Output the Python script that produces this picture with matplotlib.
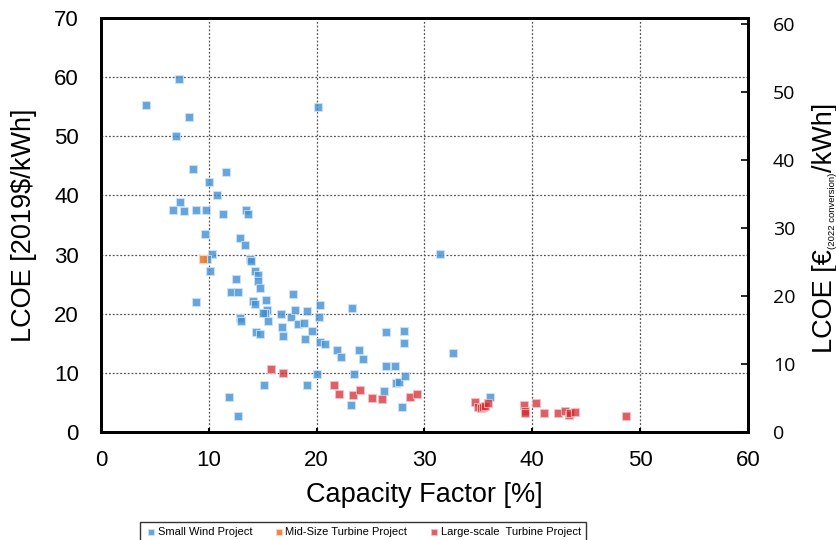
import matplotlib
matplotlib.use("Agg")
import matplotlib.pyplot as plt

# ---------------- data ----------------
small_cf = [4.2, 7.2, 8.2, 7.0, 20.1, 8.5, 11.6, 10.0, 10.8, 7.3, 6.7, 7.7, 8.8, 9.7, 11.3,
            13.45, 13.6, 9.6, 12.9, 13.4, 10.3, 9.85, 13.8, 13.9, 10.15, 12.5, 14.25, 14.6,
            14.6, 14.7, 12.1, 12.66, 8.8, 14.1, 14.3, 15.3, 15.4, 15.2, 15.0, 15.5, 12.9, 13.0,
            14.4, 14.75, 16.7, 16.8, 16.85, 17.8, 17.6, 18.0, 18.3, 18.8, 19.1, 18.9, 19.6,
            20.2, 20.3, 20.3, 20.8, 21.9, 22.3, 23.3, 23.9, 24.3, 23.5, 20.0, 26.4, 28.1, 28.1,
            26.45, 27.3, 27.4, 27.65, 28.2, 26.2, 23.2, 27.9, 19.1, 15.1, 11.85, 12.7, 31.4,
            32.6, 36.1]
small_lcoe = [55.3, 59.7, 53.2, 50.0, 55.0, 44.4, 44.0, 42.2, 40.1, 38.9, 37.6, 37.4, 37.5,
              37.5, 36.9, 37.6, 36.9, 33.5, 32.8, 31.6, 30.1, 29.2, 29.2, 28.9, 27.2, 25.9,
              27.2, 26.6, 25.5, 24.3, 23.7, 23.6, 22.0, 22.1, 21.7, 22.3, 20.7, 20.2, 20.1,
              18.8, 19.3, 18.8, 16.9, 16.5, 19.9, 17.7, 16.2, 23.4, 19.4, 20.7, 18.3, 18.4,
              20.5, 15.7, 17.0, 19.4, 21.5, 15.3, 14.8, 13.8, 12.6, 21.0, 13.9, 12.3, 9.8,
              9.8, 16.9, 17.1, 15.0, 11.1, 11.1, 8.3, 8.4, 9.4, 6.9, 4.6, 4.3, 7.9, 7.9, 6.0,
              2.7, 30.1, 13.4, 6.0]

mid_cf = [9.5]
mid_lcoe = [29.3]

large_cf = [15.8, 16.85, 21.6, 22.1, 23.4, 24.0, 25.15, 26.1, 28.7, 29.3, 34.7, 35.0, 35.2,
            35.4, 35.6, 35.9, 39.2, 39.35, 39.3, 40.3, 41.1, 42.4, 43.05, 43.4, 43.5, 44.0,
            48.7]
large_lcoe = [10.6, 10.0, 7.9, 6.5, 6.2, 7.1, 5.8, 5.6, 6.0, 6.4, 5.1, 4.2, 4.1, 4.3, 4.4,
              4.9, 4.55, 3.6, 3.2, 4.9, 3.2, 3.2, 3.6, 2.9, 3.2, 3.4, 2.75]

x_ticks = [0, 10, 20, 30, 40, 50, 60]
y_ticks_left = [0, 10, 20, 30, 40, 50, 60, 70]
y_ticks_right = [0, 10, 20, 30, 40, 50, 60]
right_top = 60.9   # right axis value at the top of the plot

# ---------------- style ----------------
plt.rcParams['font.family'] = ['Liberation Sans', 'DejaVu Sans']

W, H = 837, 540
fig = plt.figure(figsize=(W / 100, H / 100), dpi=100)
ax = fig.add_axes([101 / W, 1 - 432 / H, (748 - 101) / W, (432 - 18) / H])

blue = '#3f8fd2'
orange = '#ee7b30'
red = '#d42a30'
ms = 38

ax.scatter(small_cf, small_lcoe, s=ms, marker='s', color=blue, alpha=0.8,
           edgecolors='#cfe3f5', linewidths=0.8, label='Small Wind Project', zorder=3)
ax.scatter(mid_cf, mid_lcoe, s=ms, marker='s', color=orange, alpha=0.9,
           edgecolors='#f8d6bf', linewidths=0.8, label='Mid-Size Turbine Project', zorder=4)
ax.scatter(large_cf, large_lcoe, s=ms, marker='s', color=red, alpha=0.75,
           edgecolors='#f2c4c6', linewidths=0.8, label='Large-scale  Turbine Project', zorder=3)

ax.set_xlim(0, 60)
ax.set_ylim(0, 70)
ax.set_xticks(x_ticks)
ax.set_yticks(y_ticks_left)
ax.grid(True, linestyle=(0, (1.5, 1.5)), color='#555555', linewidth=0.9)
ax.set_axisbelow(True)
for sp in ax.spines.values():
    sp.set_linewidth(2)
    sp.set_color('black')
ax.tick_params(axis='both', direction='in', length=3, width=1.5, labelsize=16, pad=13)
ax.tick_params(axis='y', length=0, pad=16)

ax.set_xlabel('Capacity Factor [%]', fontsize=19.5, labelpad=8)
ax.set_ylabel('LCOE [2019$/kWh]', fontsize=19.5, labelpad=12)

ax2 = ax.twinx()
ax2.set_ylim(0, right_top)
ax2.set_yticks(y_ticks_right)
ax2.tick_params(axis='y', direction='in', length=5, width=1.2, labelsize=14, pad=18)
for lab in ax2.get_yticklabels():
    lab.set_fontfamily('Open Sans')
for sp in ax2.spines.values():
    sp.set_linewidth(2)

# right axis label built from pieces (tiny subscript)
renderer = fig.canvas.get_renderer()
pieces = [('LCOE [€', 19.5, 0), ('(2022 conversion)', 6.8, 3), ('/kWh]', 19.5, 0)]
base_x = 832
texts = []
lengths = []
for s, fs, dx in pieces:
    t = fig.text(0, 0, s, fontsize=fs, rotation=90, rotation_mode='anchor',
                 ha='left', va='baseline', transform=None)
    texts.append((t, dx))
    lengths.append(t.get_window_extent(renderer).height)
total = sum(lengths)
y_disp = H - 228 - total / 2
for (t, dx), L in zip(texts, lengths):
    t.set_position((base_x + dx, y_disp))
    y_disp += L

leg = fig.legend(loc='upper center', bbox_to_anchor=(363 / W, 1 - 522 / H), ncol=3,
                 fontsize=8, frameon=True, fancybox=False, edgecolor='black',
                 handletextpad=0.1, columnspacing=1.9, markerscale=0.65,
                 borderpad=0.45, handlelength=1.0, borderaxespad=0)
leg.get_frame().set_linewidth(1.0)

fig.savefig('out.png', dpi=100)
